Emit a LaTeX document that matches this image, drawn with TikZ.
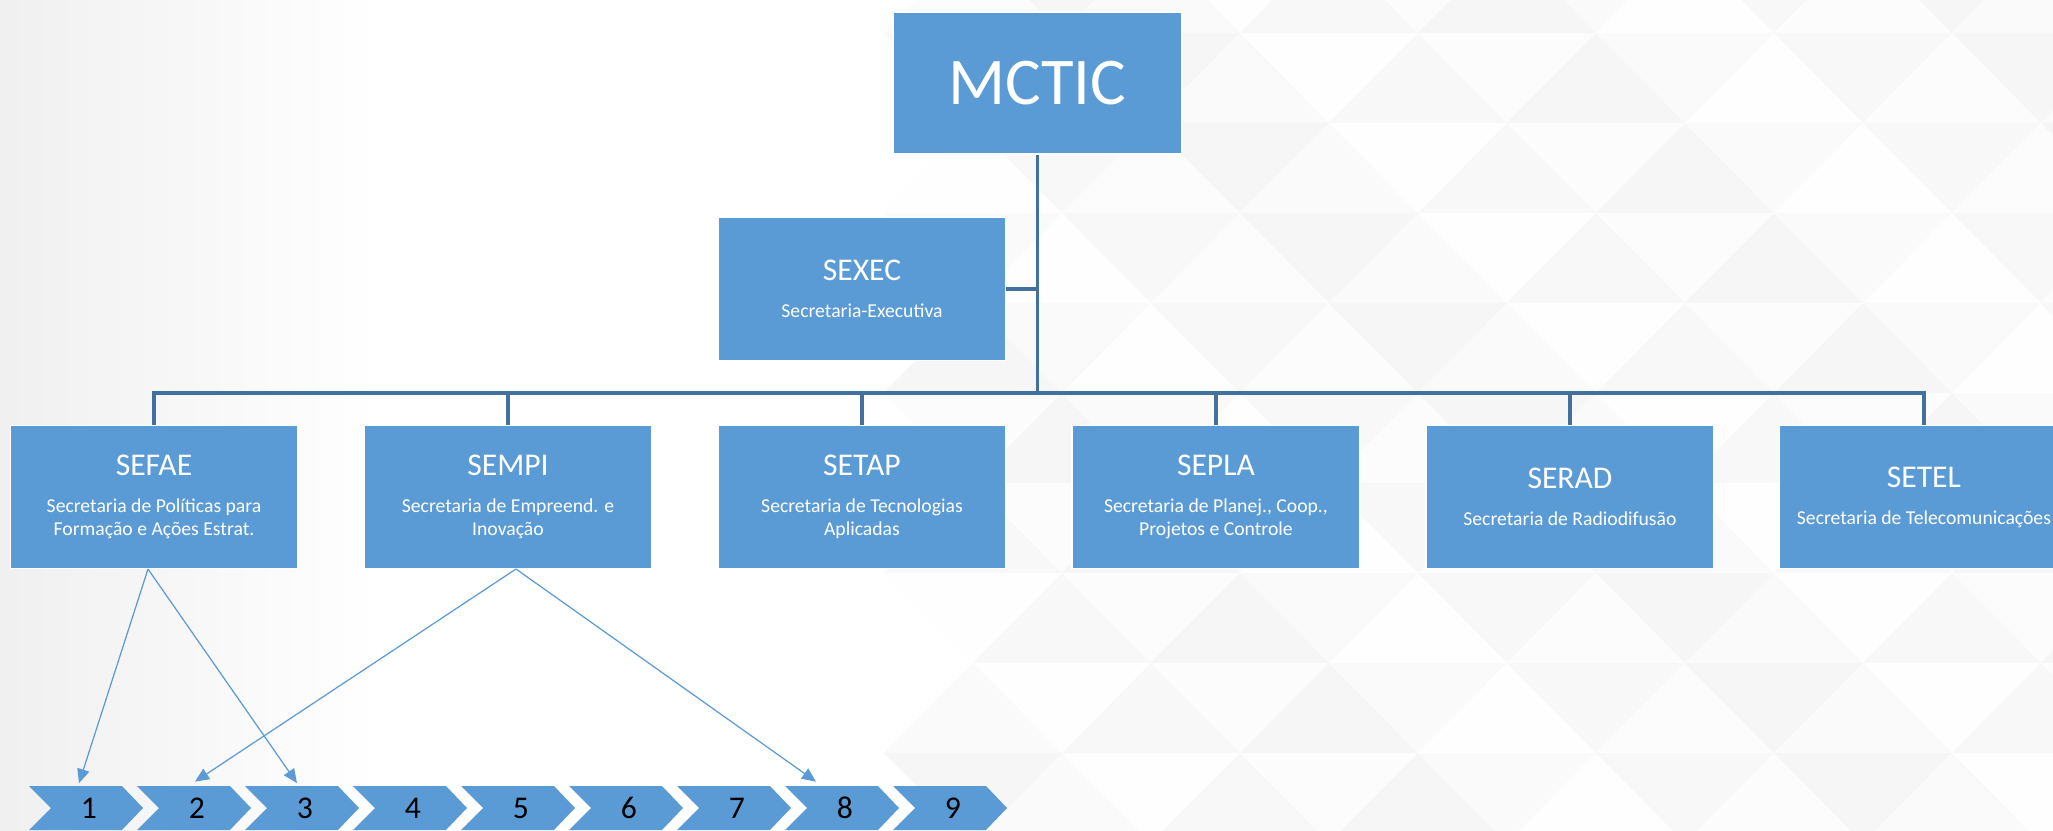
\documentclass[tikz,border=0pt]{standalone}
\usepackage{fontspec}
\setmainfont{Carlito}
\usepackage{tikz}
\usepackage{xcolor}
\definecolor{orgblue}{HTML}{5B9BD5}
\definecolor{orgline}{HTML}{41719C}
\usetikzlibrary{arrows.meta}
\usetikzlibrary{positioning}
\newcommand{\boxtitle}{\fontsize{18}{21}\selectfont}
\tikzset{org box/.style={fill=orgblue, draw=white, line width=0.6pt, text=white,
   minimum width=5.76cm, minimum height=2.86cm, align=center, inner sep=0pt,
   font=\fontsize{11.2}{13.1}\selectfont},
 bus line/.style={draw=orgline, line width=2pt},
 link arrow/.style={draw=orgblue, line width=0.7pt, -{Triangle[length=8pt,width=7pt]}},
 chev num/.style={minimum height=0.88cm, inner sep=0pt, font=\fontsize{18}{21}\selectfont},
 }

\begin{document}
\begin{tikzpicture}[x=0.02cm, y=-0.02cm]
        \useasboundingbox (0,0) rectangle (2053,831);
        \clip (0,0) rectangle (2053,831);
        \fill[white] (0,0) rectangle (2053,831);
        \shade[left color=black!6, right color=white] (0,0) rectangle (380,831);
        % faint triangles in the background
        \foreach \j in {-1,...,8}{
          \foreach \m in {-1,...,13}{
            \pgfmathsetmacro\ya{33+90*\j+90*(1-mod(\m+\j+2,2))}
            \pgfmathsetmacro\yb{33+90*\j+90*mod(\m+\j+2,2)}
            \pgfmathsetmacro\s{0.2+0.8*mod(3*\m+7*\j+21,5)}
            \fill[black!\s] (973+89*\m,\ya) -- (1062+89*\m,\yb) -- (1151+89*\m,\ya) -- cycle;
          }
        }

        \node[org box, minimum width=5.78cm, minimum height=2.84cm] (mctic) at (1037.5,83)
          {\fontsize{38}{40}\selectfont MCTIC};
        \node[org box] (sefae) at (154,497)
          {{\boxtitle SEFAE}\\[8pt]Secretaria de Políticas para\\Formação e Ações Estrat.};
        \node[org box, right=1.3cm of sefae] (sempi)
          {{\boxtitle SEMPI}\\[8pt]Secretaria de Empreend. e\\Inovação};
        \node[org box, right=1.3cm of sempi] (setap)
          {{\boxtitle SETAP}\\[8pt]Secretaria de Tecnologias\\Aplicadas};
        \node[org box, right=1.3cm of setap] (sepla)
          {{\boxtitle SEPLA}\\[8pt]Secretaria de Planej., Coop.,\\Projetos e Controle};
        \node[org box, right=1.3cm of sepla] (serad)
          {{\boxtitle SERAD}\\[8pt]Secretaria de Radiodifusão};
        \node[org box, right=1.3cm of serad] (setel)
          {{\boxtitle SETEL}\\[8pt]Secretaria de Telecomunicações};
        \node[org box, above=1.28cm of setap] (sexec)
          {{\boxtitle SEXEC}\\[8pt]Secretaria-Executiva};

        % org chart lines
        \coordinate (bus) at (mctic.south |- 0,393);
        \draw[bus line] (mctic.south) -- (bus);
        \draw[bus line] (sexec.east) -- (sexec.east -| bus);
        \foreach \n in {sefae,sempi,setap,sepla,serad,setel}
          \draw[bus line] (bus) -| (\n.north);

        % steps
        \foreach \i [evaluate=\i as \x using {29+108*(\i-1)}] in {1,...,9}{
          \fill[orgblue] (\x,786) -- ++(93,0) -- ++(21,22) -- ++(-21,22) -- ++(-93,0) -- ++(22,-22) -- cycle;
          \node[chev num] (c\i) at (\x+60,808) {\i};
        }

        \draw[link arrow] ([xshift=-0.12cm]sefae.south) -- ([xshift=-0.2cm,yshift=0.05cm]c1.north);
        \draw[link arrow] ([xshift=-0.12cm]sefae.south) -- ([xshift=-0.16cm,yshift=0.05cm]c3.north);
        \draw[link arrow] ([xshift=0.16cm]sempi.south) -- ([xshift=-0.04cm,yshift=0.08cm]c2.north);
        \draw[link arrow] ([xshift=0.16cm]sempi.south) -- ([xshift=-0.58cm,yshift=0.08cm]c8.north);
    \end{tikzpicture}
\end{document}
